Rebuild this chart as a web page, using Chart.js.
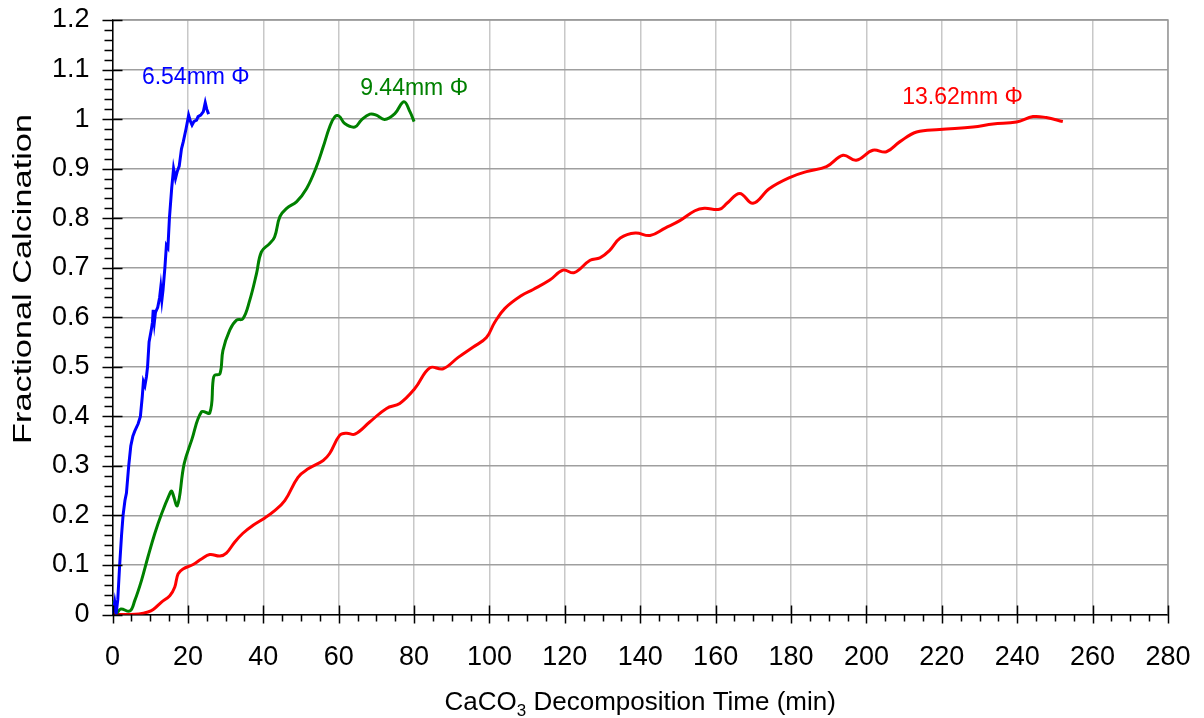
<!DOCTYPE html>
<html>
<head>
<meta charset="utf-8">
<title>Fractional Calcination</title>
<script src="https://cdn.jsdelivr.net/npm/chart.js@4.4.1/dist/chart.umd.min.js"></script>
<style>
  html, body { margin: 0; padding: 0; background: #fff; }
  #wrap { width: 1204px; height: 718px; }
</style>
</head>
<body>
<div id="wrap"><canvas id="calcChart" width="1204" height="718"></canvas></div>
<script>
// decomposition time (min) and fractional calcination, one pair of lists per particle size
const time654 = [0, 0.3, 0.6, 1.0, 1.4, 1.9, 2.4, 2.8, 3.3, 3.7, 4.3, 4.85, 5.4, 5.9, 6.8, 7.4, 7.9, 8.2, 8.6, 9.0,
  9.3, 9.7, 10.3, 10.6, 10.8, 11.1, 11.4, 12.0, 12.5, 12.8, 13.1, 13.4, 13.9, 14.3, 14.7, 15.1, 15.7, 16.2, 16.7, 17.2,
  17.7, 18.3, 18.8, 19.5, 20.2, 20.7, 21.1, 21.6, 22.3, 22.7, 23.4, 24.1, 24.6, 25.0, 25.5];
const frac654 = [0, 0.01, 0.025, 0.004, 0.03, 0.1, 0.16, 0.2, 0.23, 0.245, 0.3, 0.34, 0.36, 0.37, 0.385, 0.4, 0.44, 0.47, 0.462, 0.48,
  0.5, 0.55, 0.575, 0.59, 0.615, 0.59, 0.61, 0.62, 0.64, 0.66, 0.635, 0.655, 0.7, 0.745, 0.74, 0.8, 0.86, 0.9, 0.88, 0.895,
  0.905, 0.94, 0.955, 0.98, 1.008, 0.995, 0.988, 0.995, 0.998, 1.005, 1.008, 1.015, 1.033, 1.02, 1.01];

const time944 = [0, 0.2, 1.0, 2.2, 4.6, 5.9, 7.7, 9.4, 11.2, 13.0, 15.2, 15.7, 17.2, 19.0, 21.0, 23.6, 25.8, 26.7, 27.1, 28.5,
  29.3, 31.1, 32.9, 34.6, 36.4, 38.2, 39.5, 41.7, 43.0, 44.4, 46.2, 48.8, 51.5, 54.1, 55.9, 57.6, 59.0, 60.1, 61.6, 64.3,
  66.0, 68.3, 70.0, 72.2, 74.9, 77.3, 78.9, 80.0];
const frac944 = [0, 0.025, 0.003, 0.011, 0.007, 0.028, 0.069, 0.116, 0.163, 0.203, 0.244, 0.249, 0.22, 0.304, 0.352, 0.409, 0.407, 0.473, 0.483, 0.486,
  0.533, 0.574, 0.594, 0.597, 0.634, 0.688, 0.732, 0.749, 0.762, 0.803, 0.82, 0.833, 0.86, 0.904, 0.944, 0.984, 1.005, 1.006, 0.991, 0.984,
  0.998, 1.01, 1.008, 0.999, 1.011, 1.035, 1.015, 0.995];

const time1362 = [0, 4, 7, 9.4, 10.8, 13.0, 15.2, 16.5, 17.4, 18.7, 21.4, 23.6, 25.8, 28.5, 30.2, 32.4, 34.6, 37.3, 40.4, 42.6,
  45.7, 49.2, 51.9, 55.9, 57.6, 60.3, 62.1, 64.3, 68.3, 72.7, 76.2, 80.2, 84.2, 87.7, 91.7, 95.7, 99.2, 101.4, 104.1, 108.5,
  111.6, 116.0, 119.5, 122.5, 126.7, 129.3, 131.9, 134.7, 138.7, 142.6, 146.6, 150.5, 154.5, 157.0, 161.0, 163.0, 166.4, 169.9, 174.3, 179.6,
  184.1, 189.4, 193.8, 197.3, 201.7, 205.3, 208.8, 213.3, 219.4, 228.3, 233.6, 239.8, 244.2, 247.7, 252.1];
const frac1362 = [0, 0, 0.001, 0.005, 0.01, 0.025, 0.038, 0.055, 0.082, 0.092, 0.101, 0.112, 0.121, 0.118, 0.124, 0.146, 0.164, 0.18, 0.195, 0.207,
  0.23, 0.277, 0.294, 0.311, 0.325, 0.362, 0.366, 0.364, 0.389, 0.416, 0.426, 0.456, 0.498, 0.496, 0.519, 0.54, 0.559, 0.59, 0.618, 0.644,
  0.656, 0.675, 0.695, 0.69, 0.715, 0.72, 0.735, 0.76, 0.77, 0.765, 0.78, 0.795, 0.815, 0.82, 0.818, 0.83, 0.85, 0.83, 0.86, 0.882,
  0.894, 0.904, 0.927, 0.917, 0.937, 0.934, 0.954, 0.974, 0.979, 0.984, 0.99, 0.994, 1.005, 1.003, 0.995];

const seriesNames = ['6.54mm \u03a6', '9.44mm \u03a6', '13.62mm \u03a6'];
const seriesColors = ['#0000ff', '#008000', '#ff0000'];
const yTickLabels = ['0', '0.1', '0.2', '0.3', '0.4', '0.5', '0.6', '0.7', '0.8', '0.9', '1', '1.1', '1.2'];
const xTickLabels = ['0', '20', '40', '60', '80', '100', '120', '140', '160', '180', '200', '220', '240', '260', '280'];

const FONT = '"Liberation Sans", Arial, sans-serif';
const toPoints = (ts, fs) => ts.map((t, i) => ({ x: t, y: fs[i] }));

// minor ticks, frame edges, curve labels and axis titles
const decorPlugin = {
  id: 'decor',
  afterDraw(chart) {
    const { ctx, chartArea: a, scales: { x, y } } = chart;
    ctx.save();

    ctx.strokeStyle = '#9a9a9a';
    ctx.lineWidth = 1.5;
    ctx.beginPath();
    ctx.moveTo(a.left, a.top);
    ctx.lineTo(a.right, a.top);
    ctx.lineTo(a.right, a.bottom);
    ctx.stroke();

    ctx.strokeStyle = '#000';
    ctx.lineWidth = 1.5;
    ctx.beginPath();
    for (let i = 0; i <= 56; i++) {
      const px = Math.round(x.getPixelForValue(i * 5)) + 0.5;
      if (i % 4 === 0) { ctx.moveTo(px, a.bottom - 9); ctx.lineTo(px, a.bottom + 9); }
      else { ctx.moveTo(px, a.bottom); ctx.lineTo(px, a.bottom + 7); }
    }
    for (let i = 0; i <= 60; i++) {
      const py = Math.round(y.getPixelForValue(i * 0.02)) + 0.5;
      if (i % 5 === 0) { ctx.moveTo(a.left - 10, py); ctx.lineTo(a.left + 10, py); }
      else { ctx.moveTo(a.left - 8, py); ctx.lineTo(a.left, py); }
    }
    ctx.stroke();

    // curve labels
    const labelAt = [[22.1, 1.083], [80, 1.062], [225.5, 1.044]];
    ctx.font = '23px ' + FONT;
    ctx.textAlign = 'center';
    ctx.textBaseline = 'middle';
    seriesNames.forEach((name, i) => {
      ctx.fillStyle = seriesColors[i];
      ctx.fillText(name, x.getPixelForValue(labelAt[i][0]), y.getPixelForValue(labelAt[i][1]));
    });

    // x axis title with subscript
    ctx.fillStyle = '#000';
    ctx.textAlign = 'left';
    ctx.textBaseline = 'alphabetic';
    const big = '26px ' + FONT;
    const small = '17px ' + FONT;
    const parts = [['CaCO', big, 0], ['3', small, 6], [' Decomposition Time (min)', big, 0]];
    let total = 0;
    parts.forEach(p => { ctx.font = p[1]; total += ctx.measureText(p[0]).width; });
    let tx = (a.left + a.right) / 2 - total / 2;
    parts.forEach(p => {
      ctx.font = p[1];
      ctx.fillText(p[0], tx, 710 + p[2]);
      tx += ctx.measureText(p[0]).width;
    });

    // y axis title, drawn a little elongated along its length
    ctx.translate(31, 279);
    ctx.rotate(-Math.PI / 2);
    ctx.scale(1.32, 1);
    ctx.textAlign = 'center';
    ctx.font = '26px ' + FONT;
    ctx.fillText('Fractional Calcination', 0, 0);
    ctx.restore();
  }
};

const ctx = document.getElementById('calcChart').getContext('2d');
new Chart(ctx, {
  type: 'scatter',
  data: {
    datasets: [
      { label: seriesNames[0], data: toPoints(time654, frac654), tension: 0 },
      { label: seriesNames[1], data: toPoints(time944, frac944), tension: 0.4 },
      { label: seriesNames[2], data: toPoints(time1362, frac1362), tension: 0.4 }
    ].map((d, i) => Object.assign(d, {
      showLine: true,
      borderColor: seriesColors[i],
      backgroundColor: seriesColors[i],
      borderWidth: 3,
      pointRadius: 0,
      fill: false
    }))
  },
  options: {
    responsive: false,
    animation: false,
    layout: { padding: { top: 20, right: 36, left: 0, bottom: 0 } },
    plugins: { legend: { display: false }, tooltip: { enabled: false } },
    scales: {
      x: {
        type: 'linear', min: 0, max: 280,
        afterFit: s => { s.height = 103.5; s.paddingLeft = 0; s.paddingRight = 0; },
        grid: { color: '#c8c8c8', lineWidth: 1.5, drawTicks: false },
        border: { color: '#000', width: 1.5 },
        ticks: {
          stepSize: 20, padding: 27, color: '#000',
          font: { family: FONT, size: 27 },
          callback: (v) => xTickLabels[Math.round(v / 20)]
        }
      },
      y: {
        type: 'linear', min: 0, max: 1.2,
        afterFit: s => { s.width = 112.5; s.paddingTop = 0; s.paddingBottom = 0; },
        grid: { color: '#9f9f9f', lineWidth: 1.5, drawTicks: false },
        border: { color: '#000', width: 1.5 },
        ticks: {
          stepSize: 0.1, padding: 23, color: '#000',
          font: { family: FONT, size: 27 },
          callback: (v) => yTickLabels[Math.round(v * 10)]
        }
      }
    }
  },
  plugins: [decorPlugin]
});
</script>
</body>
</html>
